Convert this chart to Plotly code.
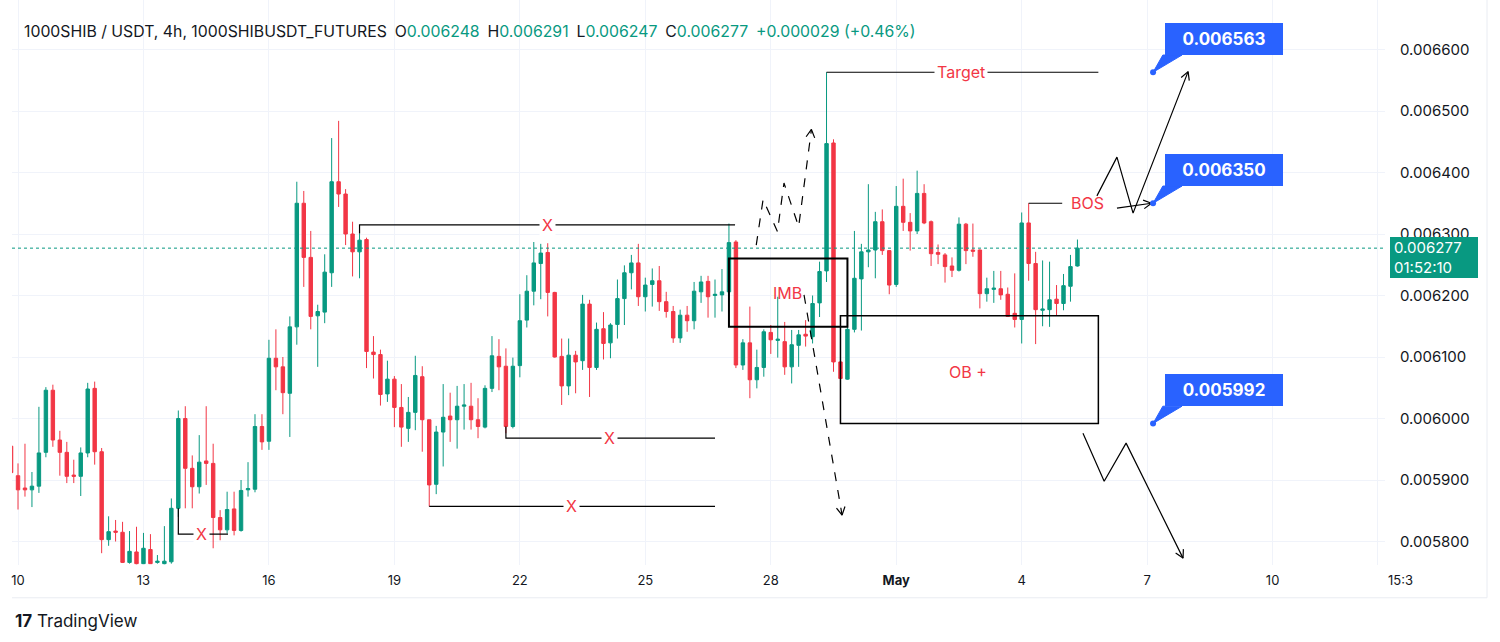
import math
import pandas as pd
import plotly.graph_objects as go

# ---------------- data (prices in units of 1e-6 USDT, 4h candles) ----------------
START = "2024-04-09 20:00"
FREQ = "4h"
SCALE = 1e-6

open_u = [5955,
    5907, 5887, 5884, 5890, 5945, 6046, 5965, 5945, 5908, 5906,
    5944, 6049, 5946, 5803, 5817, 5815, 5766, 5783, 5764, 5787,
    5766, 5764, 5767, 5854, 6000, 5919, 5889, 5931, 5927, 5839,
    5819, 5853, 5818, 5884, 5885, 5987, 5963, 6098, 6084, 6041,
    6149, 6350, 6262, 6167, 6173, 6237, 6385, 6365, 6300, 6271,
    6291, 6108, 6104, 6040, 6064, 6018, 5984, 6010, 6068, 5998,
    5893, 5978, 6004, 5998, 6020, 6020, 5998, 5986, 6049, 6101,
    6085, 5987, 6086, 6160, 6207, 6252, 6270, 6205, 6101, 6053,
    6103, 6094, 6186, 6083, 6146, 6123, 6153, 6195, 6237, 6253,
    6198, 6218, 6224, 6190, 6174, 6131, 6168, 6159, 6206, 6223,
    6200, 6201, 6206, 6287, 6087, 6123, 6063, 6083, 6140, 6127,
    6125, 6084, 6119, 6137, 6133, 6188, 6240, 6448, 6092, 6064,
    6145, 6227, 6271, 6274, 6320, 6273, 6218, 6345, 6319, 6305,
    6366, 6320, 6270, 6266, 6248, 6241, 6316, 6274, 6274, 6203,
    6210, 6211, 6202, 6171, 6161, 6318, 6252, 6176, 6177, 6194,
    6187, 6215, 6248]
high_u = [5970,
    5927, 5959, 5913, 6019, 6051, 6055, 5980, 5962, 5933, 5953,
    6058, 6060, 5952, 5841, 5835, 5832, 5817, 5824, 5814, 5812,
    5778, 5825, 5870, 6013, 6020, 5940, 5973, 6020, 5959, 5851,
    5881, 5881, 5900, 5929, 6007, 6007, 6128, 6145, 6100, 6166,
    6385, 6370, 6305, 6185, 6267, 6456, 6484, 6373, 6320, 6301,
    6294, 6134, 6112, 6094, 6069, 6056, 6035, 6102, 6085, 5998,
    5988, 6056, 6042, 6053, 6056, 6058, 6033, 6054, 6134, 6129,
    6114, 6099, 6202, 6233, 6287, 6284, 6285, 6206, 6130, 6130,
    6110, 6201, 6193, 6156, 6173, 6155, 6226, 6249, 6266, 6284,
    6229, 6244, 6248, 6206, 6183, 6177, 6183, 6222, 6232, 6232,
    6226, 6243, 6317, 6290, 6129, 6182, 6112, 6145, 6152, 6198,
    6157, 6144, 6144, 6160, 6200, 6255, 6563, 6454, 6093, 6168,
    6305, 6284, 6381, 6336, 6340, 6274, 6378, 6390, 6334, 6403,
    6381, 6322, 6283, 6269, 6262, 6327, 6318, 6317, 6275, 6229,
    6240, 6240, 6213, 6236, 6335, 6350, 6271, 6257, 6255, 6217,
    6235, 6266, 6291]
low_u = [5905,
    5852, 5873, 5856, 5879, 5937, 5954, 5907, 5895, 5895, 5874,
    5937, 5925, 5781, 5793, 5800, 5765, 5764, 5763, 5764, 5764,
    5764, 5763, 5764, 5840, 5854, 5854, 5878, 5892, 5789, 5802,
    5813, 5810, 5816, 5873, 5880, 5949, 5949, 6046, 6007, 5970,
    6120, 6214, 6145, 6084, 6155, 6214, 6344, 6282, 6231, 6228,
    6082, 6065, 6021, 6027, 5986, 5954, 5962, 5981, 5946, 5857,
    5877, 5922, 5962, 5951, 5982, 5982, 5968, 5984, 6043, 6046,
    5976, 5984, 6067, 6148, 6184, 6194, 6166, 6099, 6022, 6038,
    6041, 6079, 6035, 6079, 6096, 6098, 6130, 6152, 6210, 6183,
    6174, 6182, 6175, 6164, 6123, 6123, 6141, 6145, 6188, 6164,
    6164, 6174, 6200, 6082, 6079, 6033, 6049, 6068, 6105, 6099,
    6071, 6057, 6084, 6117, 6122, 6165, 6222, 6076, 5992, 6063,
    6140, 6143, 6246, 6228, 6266, 6202, 6214, 6305, 6273, 6300,
    6316, 6248, 6251, 6221, 6230, 6239, 6251, 6263, 6179, 6190,
    6188, 6193, 6165, 6148, 6122, 6224, 6121, 6150, 6149, 6167,
    6176, 6190, 6247]
close_u = [5912,
    5884, 5884, 5890, 5944, 6046, 5965, 5945, 5906, 5906, 5944,
    6048, 5946, 5803, 5816, 5815, 5766, 5784, 5764, 5789, 5764,
    5768, 5768, 5854, 6000, 5919, 5889, 5929, 5927, 5839, 5819,
    5852, 5818, 5883, 5886, 5987, 5962, 6098, 6084, 6042, 6149,
    6350, 6262, 6166, 6174, 6238, 6385, 6365, 6300, 6271, 6290,
    6109, 6104, 6039, 6064, 6018, 5986, 6010, 6070, 5998, 5892,
    5978, 6002, 5998, 6020, 6022, 5998, 5987, 6049, 6102, 6084,
    5987, 6085, 6159, 6207, 6253, 6269, 6205, 6100, 6053, 6103,
    6092, 6186, 6083, 6145, 6122, 6152, 6195, 6237, 6253, 6198,
    6217, 6224, 6190, 6174, 6131, 6168, 6159, 6207, 6222, 6198,
    6202, 6206, 6286, 6087, 6123, 6063, 6083, 6141, 6128, 6129,
    6084, 6120, 6136, 6134, 6187, 6239, 6447, 6092, 6065, 6145,
    6228, 6271, 6274, 6320, 6273, 6217, 6345, 6319, 6305, 6366,
    6318, 6268, 6267, 6247, 6241, 6316, 6273, 6272, 6203, 6211,
    6212, 6201, 6166, 6161, 6318, 6252, 6177, 6178, 6193, 6187,
    6216, 6247, 6277]

# axis ticks
time_tick_dates = ["2024-04-10", "2024-04-13", "2024-04-16", "2024-04-19", "2024-04-22",
                   "2024-04-25", "2024-04-28", "2024-05-01", "2024-05-04", "2024-05-07", "2024-05-10",
                   "2024-05-12 12:00"]
time_tick_text = ["10", "13", "16", "19", "22", "25", "28", "<b>May</b>", "4", "7", "10", ""]
edge_time_label = "15:3"
price_ticks = [0.0058, 0.0059, 0.0060, 0.0061, 0.0062, 0.0063, 0.0064, 0.0065, 0.0066]

# key levels drawn on the chart
last_price = 0.006277
target_level = 0.006563
bos_level = 0.006350
ob_low, ob_high = 0.005992, 0.006167
imb_low, imb_high = 0.006149, 0.006260
x_upper, x_mid, x_low, x_small = 0.006315, 0.005968, 0.005857, 0.005812

header_symbol = "1000SHIB / USDT, 4h, 1000SHIBUSDT_FUTURES"
header_ohlc = [("O", "0.006248"), ("H", "0.006291"), ("L", "0.006247"), ("C", "0.006277")]
header_change = "+0.000029 (+0.46%)"
countdown = "01:52:10"

# ---------------- styling ----------------
GREEN = "#089981"
RED = "#F23645"
BLUE = "#2962FF"
INK = "#131722"
GRID = "#F0F3FA"
FONT = "Inter, Roboto, sans-serif"

X_RANGE = [pd.Timestamp("2024-04-09 20:33"), pd.Timestamp("2024-05-12 16:30")]
Y_RANGE = [0.0057618, 0.0066805]
PLOT_W, PLOT_H = 1373, 565

assert len(open_u) == len(high_u) == len(low_u) == len(close_u)
times = pd.date_range(START, periods=len(open_u), freq=FREQ)

fig = go.Figure()
fig.add_trace(go.Candlestick(
    x=times,
    open=[v * SCALE for v in open_u], high=[v * SCALE for v in high_u],
    low=[v * SCALE for v in low_u], close=[v * SCALE for v in close_u],
    increasing=dict(line=dict(color=GREEN, width=1), fillcolor=GREEN),
    decreasing=dict(line=dict(color=RED, width=1), fillcolor=RED),
    whiskerwidth=0, hoverinfo="skip", showlegend=False,
))


def to_px(t, p):
    t = pd.Timestamp(t)
    x = (t - X_RANGE[0]) / (X_RANGE[1] - X_RANGE[0]) * PLOT_W
    y = (p - Y_RANGE[0]) / (Y_RANGE[1] - Y_RANGE[0]) * PLOT_H
    return x, y


def from_px(x, y):
    t = X_RANGE[0] + (X_RANGE[1] - X_RANGE[0]) * (x / PLOT_W)
    p = Y_RANGE[0] + (Y_RANGE[1] - Y_RANGE[0]) * (y / PLOT_H)
    return t, p


def polyline(points, dash=None, arrow=False, width=1.2):
    xs = [pd.Timestamp(t) for t, _ in points]
    ys = [p for _, p in points]
    fig.add_trace(go.Scatter(x=xs, y=ys, mode="lines", line=dict(color="#000000", width=width, dash=dash),
                             hoverinfo="skip", showlegend=False))
    if arrow:
        tx, ty = to_px(*points[-1])
        sx, sy = to_px(*points[-2])
        ang = math.atan2(ty - sy, tx - sx)
        wings = []
        for d in (0.5, -0.5):
            a = ang + math.pi + d
            wings.append(from_px(tx + 9 * math.cos(a), ty + 9 * math.sin(a)))
        fig.add_trace(go.Scatter(x=[wings[0][0], xs[-1], wings[1][0]], y=[wings[0][1], ys[-1], wings[1][1]],
                                 mode="lines", line=dict(color="#000000", width=width),
                                 hoverinfo="skip", showlegend=False))


# horizontal level drawings
polyline([("2024-04-29 08:00", target_level), ("2024-05-05 20:00", target_level)])
polyline([("2024-04-18 04:00", 0.006301), ("2024-04-18 04:00", x_upper), ("2024-04-27 03:30", x_upper)])
polyline([("2024-04-21 16:00", 0.005987), ("2024-04-21 16:00", x_mid), ("2024-04-26 16:00", x_mid)])
polyline([("2024-04-19 20:00", x_low), ("2024-04-26 16:00", x_low)])
polyline([("2024-04-13 20:00", 0.005854), ("2024-04-13 20:00", x_small), ("2024-04-15 00:30", x_small)])
polyline([("2024-05-04 04:00", bos_level), ("2024-05-04 23:15", bos_level)])

# projected paths
polyline([("2024-04-27 15:40", 0.006282), ("2024-04-27 19:35", 0.006356), ("2024-04-28 03:50", 0.006304),
          ("2024-04-28 07:35", 0.006383), ("2024-04-28 16:00", 0.006312), ("2024-04-28 23:20", 0.006470)],
         dash="dash", arrow=True)
polyline([("2024-04-28 19:05", 0.006201), ("2024-04-29 16:55", 0.005843)], dash="dash", arrow=True)
polyline([("2024-05-05 19:10", 0.006362), ("2024-05-06 06:40", 0.006425), ("2024-05-06 15:55", 0.006334),
          ("2024-05-07 23:30", 0.006564)], arrow=True)
polyline([("2024-05-06 06:40", 0.006342), ("2024-05-07 02:30", 0.006350)], arrow=True)
polyline([("2024-05-05 11:10", 0.005976), ("2024-05-05 23:20", 0.005898), ("2024-05-06 11:55", 0.005960),
          ("2024-05-07 20:35", 0.005773)], arrow=True)

shapes = [
    dict(type="rect", xref="x", yref="y", x0="2024-04-27 00:00", x1="2024-04-29 20:00", y0=imb_low, y1=imb_high,
         line=dict(color="#000000", width=2), fillcolor="rgba(0,0,0,0)", layer="above"),
    dict(type="rect", xref="x", yref="y", x0="2024-04-29 16:00", x1="2024-05-05 20:00", y0=ob_low, y1=ob_high,
         line=dict(color="#000000", width=1.5), fillcolor="rgba(0,0,0,0)", layer="above"),
    dict(type="line", xref="paper", yref="y", x0=0, x1=1, y0=last_price, y1=last_price,
         line=dict(color=GREEN, width=1, dash="dot"), layer="above"),
    # chart frame: time-scale bottom border and right widget border
    dict(type="line", xref="paper", yref="paper", x0=0, x1=1.0743, y0=-0.058, y1=-0.058,
         line=dict(color="#E9ECF2", width=1)),
    dict(type="line", xref="paper", yref="paper", x0=1.0743, x1=1.0743, y0=-0.058, y1=1,
         line=dict(color="#E9ECF2", width=1)),
]

annotations = []


def red_text(t, p, s, bg=None):
    annotations.append(dict(x=pd.Timestamp(t), y=p, xref="x", yref="y", text=s, showarrow=False,
                            font=dict(family=FONT, size=16, color=RED),
                            bgcolor=bg if bg else "rgba(0,0,0,0)", borderpad=2,
                            xanchor="center", yanchor="middle"))


red_text("2024-05-02 13:10", target_level, "Target", bg="white")
red_text("2024-04-22 15:35", x_upper, "X", bg="white")
red_text("2024-04-24 03:10", x_mid, "X", bg="white")
red_text("2024-04-23 05:25", x_low, "X", bg="white")
red_text("2024-04-14 09:35", x_small, "X", bg="white")
red_text("2024-04-28 09:20", 0.006204, "IMB")
red_text("2024-05-02 17:10", 0.006076, "OB +")
red_text("2024-05-05 13:30", bos_level, "BOS")

# blue price callouts
callouts = [(target_level, 0.006617, 0.006591), (bos_level, 0.0064033, 0.006378), (ob_low, 0.0060464, 0.006020)]
dot_t = pd.Timestamp("2024-05-07 03:24")
for level, center, bottom in callouts:
    fig.add_trace(go.Scatter(x=[dot_t, pd.Timestamp("2024-05-07 09:00"), pd.Timestamp("2024-05-07 20:00"), dot_t],
                             y=[level, bottom, bottom, level], fill="toself", fillcolor=BLUE, mode="lines",
                             line=dict(color=BLUE, width=1), hoverinfo="skip", showlegend=False))
    fig.add_trace(go.Scatter(x=[dot_t], y=[level], mode="markers", marker=dict(color=BLUE, size=6),
                             hoverinfo="skip", showlegend=False))
    annotations.append(dict(x=pd.Timestamp("2024-05-08 20:06"), y=center, xref="x", yref="y",
                            text=f"<b>{level:.6f}</b>", showarrow=False,
                            font=dict(family=FONT, size=17, color="white"), bgcolor=BLUE, bordercolor=BLUE,
                            borderwidth=1, borderpad=4, width=108, height=22,
                            xanchor="center", yanchor="middle"))

# header
ohlc_html = "\u2002".join(f"{k}<span style='color:{GREEN}'>{v}</span>" for k, v in header_ohlc)
header = f"{header_symbol}\u2002{ohlc_html}\u2002<span style='color:{GREEN}'>{header_change}</span>"
annotations.append(dict(x=0.0073, y=0.9451, xref="paper", yref="paper", text=header, showarrow=False,
                        xanchor="left", yanchor="middle", font=dict(family=FONT, size=15.8, color=INK)))

# last price label
annotations.append(dict(x=1.0036, y=0.0062618, xref="paper", yref="y",
                        text=f"{last_price:.6f}<br>{countdown}", showarrow=False, align="left",
                        xanchor="left", yanchor="middle", bgcolor=GREEN, bordercolor=GREEN, borderpad=3,
                        width=80, height=33, font=dict(family=FONT, size=15, color="white")))

# time-scale label cut by the price scale
annotations.append(dict(x=1.0006, y=-0.027, xref="paper", yref="paper", text=edge_time_label, showarrow=False,
                        xanchor="left", yanchor="middle", font=dict(family=FONT, size=13, color=INK)))

# watermark
annotations.append(dict(x=0.0007, y=-0.099, xref="paper", yref="paper", text="<b>17</b> TradingView",
                        showarrow=False, xanchor="left", yanchor="middle",
                        font=dict(family=FONT, size=17, color=INK)))

fig.update_layout(
    width=1500, height=642,
    margin=dict(l=12, r=115, t=0, b=77),
    paper_bgcolor="white", plot_bgcolor="white",
    font=dict(family=FONT, color=INK),
    shapes=shapes, annotations=annotations,
    hovermode=False,
    xaxis=dict(type="date", range=X_RANGE, rangeslider=dict(visible=False),
               tickvals=time_tick_dates, ticktext=time_tick_text, tickfont=dict(size=13, color=INK),
               showgrid=True, gridcolor=GRID, gridwidth=1, zeroline=False, ticks="", showline=False,
               ticklabelstandoff=6),
    yaxis=dict(side="right", range=Y_RANGE, tickvals=price_ticks, tickformat=".6f",
               tickfont=dict(size=15, color=INK), showgrid=True, gridcolor=GRID, gridwidth=1,
               zeroline=False, ticks="", showline=False, ticklabelstandoff=14),
)

fig.write_html("out.html")
